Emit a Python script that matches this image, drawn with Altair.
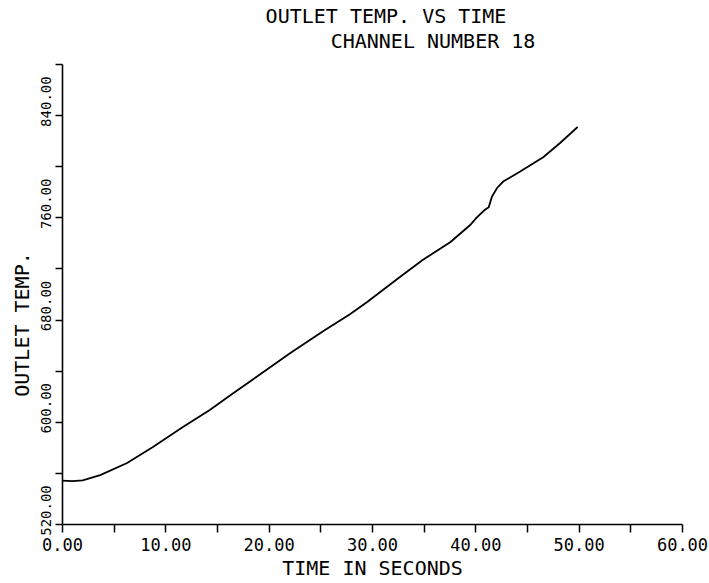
import altair as alt
import pandas as pd

# Values
time_s = [0.0, 1.0, 2.0, 3.7, 6.3, 8.8, 11.7, 14.3, 16.6, 18.4, 22.1, 25.3, 27.9,
          29.5, 32.7, 34.9, 37.6, 39.5, 40.1, 40.9, 41.3, 41.6, 42.1, 42.7, 44.3,
          46.6, 48.2, 49.9]
temp_f = [554.0, 553.6, 554.2, 558.3, 567.7, 580.3, 595.9, 609.2, 622.5, 632.7,
          653.8, 671.0, 684.3, 693.5, 713.3, 726.6, 740.7, 754.0, 759.5, 765.7,
          768.0, 776.0, 783.0, 788.0, 795.7, 807.2, 818.2, 830.7]

x_ticks = [0, 5, 10, 15, 20, 25, 30, 35, 40, 45, 50, 55, 60]
y_ticks = [520, 560, 600, 640, 680, 720, 760, 800, 840, 880]

title_line1 = ["OUTLET TEMP. VS TIME"]
title_line2 = ["CHANNEL NUMBER 18"]

FONT = "DejaVu Sans Mono"
NBSP = "\u00a0"

df = pd.DataFrame({"time": time_s, "temp": temp_f})

x_label_expr = (
    "datum.value === 0 ? '" + NBSP + "0.00' : "
    "(datum.value % 10 === 0 ? format(datum.value, '.2f') : '')"
)

line = alt.Chart(df).mark_line(color="black", strokeWidth=1.8).encode(
    x=alt.X(
        "time:Q",
        scale=alt.Scale(domain=[0, 60], nice=False, zero=False),
        axis=alt.Axis(
            title="TIME IN SECONDS",
            values=x_ticks,
            labelExpr=x_label_expr,
            orient="bottom",
            tickSize=8,
            labelPadding=5,
            labelFontSize=17,
            labelBaseline="top",
            titleFontSize=20,
            titleFontWeight="normal",
            titleBaseline="middle",
            titleY=44,
        ),
    ),
    y=alt.Y(
        "temp:Q",
        scale=alt.Scale(domain=[520, 880], nice=False, zero=False),
        axis=alt.Axis(
            title="OUTLET TEMP.",
            values=y_ticks,
            labelExpr="(datum.value - 520) % 80 === 0 ? format(datum.value, '.2f') : ''",
            orient="left",
            tickSize=7,
            labelPadding=5,
            labelAngle=-90,
            labelAlign="center",
            labelBaseline="alphabetic",
            labelOffset=-14,
            labelFontSize=14,
            titleFontSize=20,
            titleFontWeight="normal",
            titleAngle=-90,
            titleAlign="center",
            titleBaseline="middle",
            titleX=-40,
            titleY=260,
        ),
    ),
)

t1 = alt.Chart(pd.DataFrame({"t": title_line1})).mark_text(
    font=FONT, fontSize=20, color="black", align="center", baseline="middle"
).encode(text="t:N", x=alt.value(324), y=alt.value(-47))

t2 = alt.Chart(pd.DataFrame({"t": title_line2})).mark_text(
    font=FONT, fontSize=20, color="black", align="center", baseline="middle"
).encode(text="t:N", x=alt.value(371), y=alt.value(-22))

chart = alt.layer(line, t1, t2).properties(
    width=620,
    height=460,
    autosize=alt.AutoSizeParams(type="none"),
    padding={"left": 62, "top": 64, "right": 27, "bottom": 59},
    background="white",
).configure_view(stroke=None).configure_axis(
    grid=False,
    domainColor="black",
    domainWidth=1.6,
    tickColor="black",
    tickWidth=1.5,
    labelColor="black",
    titleColor="black",
    labelFont=FONT,
    titleFont=FONT,
    labelOverlap=False,
    labelFlush=False,
)

chart.save("out.html", embed_options={"renderer": "svg", "actions": False})
